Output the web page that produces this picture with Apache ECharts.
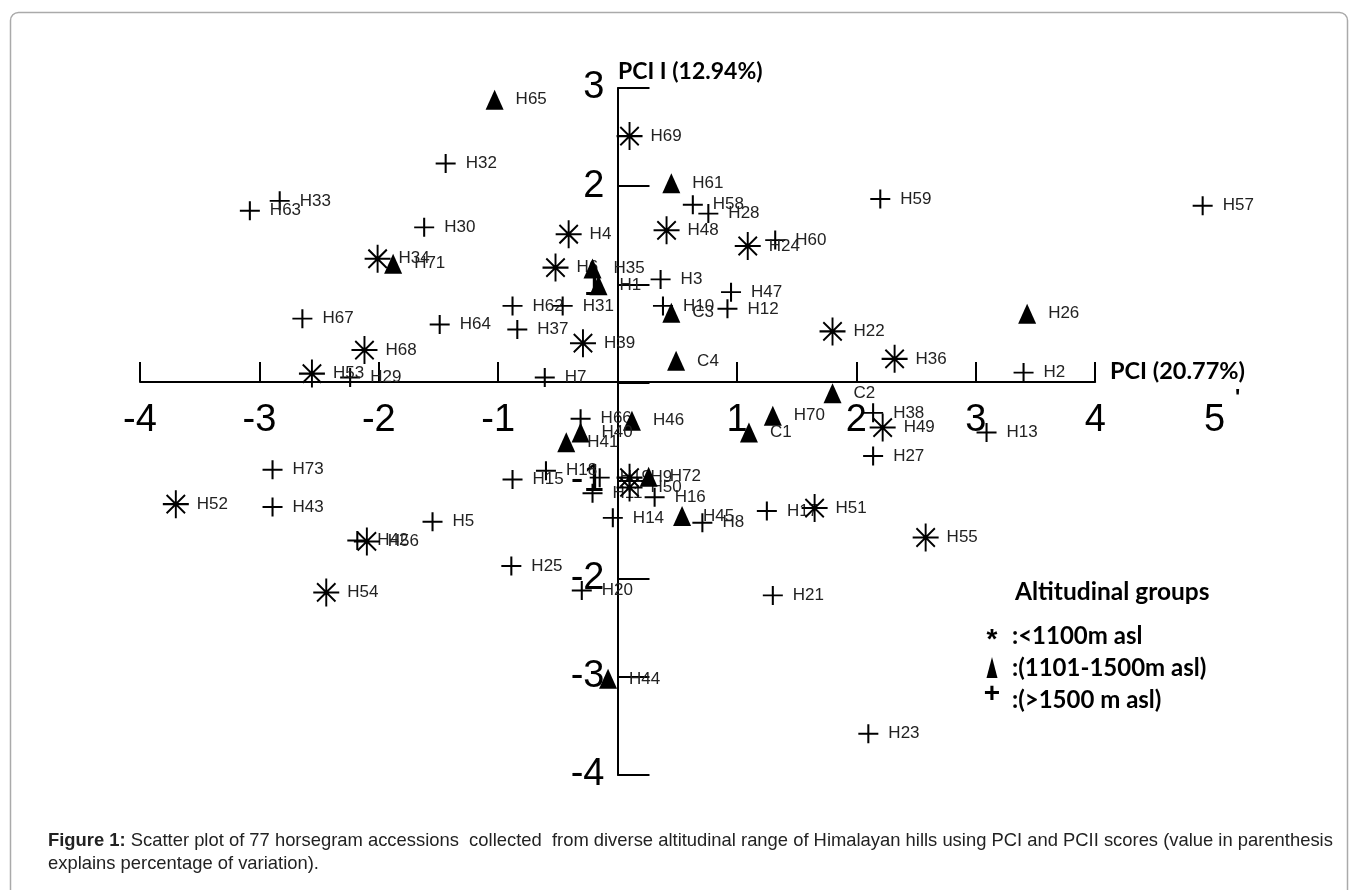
<!DOCTYPE html>
<html><head><meta charset="utf-8">
<script src="https://cdn.jsdelivr.net/npm/echarts@6/dist/echarts.min.js"></script>
<style>html,body{margin:0;padding:0;background:#fff}#c{width:1358px;height:890px}</style>
</head><body><div id="c"></div>
<script>
// ---- DATA ----
// x tick labels (PCI), y tick labels (PCII)
const xTickLabels = ['-4','-3','-2','-1','','1','2','3','4','5'];
const yTickLabels = ['-4','-3','-2','-1','','1','2','3'];

// <1100m asl (asterisk)
const lowNames = ['H69','H4','H48','H24','H34','H6','H39','H68','H53','H22','H36','H49','H9','H50','H52','H56','H54','H51','H55'];
const lowPC1   = [0.10,-0.41,0.41,1.09,-2.01,-0.52,-0.29,-2.12,-2.56,1.80,2.32,2.22,0.10,0.10,-3.70,-2.10,-2.44,1.65,2.58];
const lowPC2   = [2.51,1.51,1.55,1.39,1.26,1.17,0.40,0.33,0.09,0.52,0.24,-0.46,-0.97,-1.07,-1.24,-1.62,-2.14,-1.28,-1.58];

// 1101-1500m asl (triangle)
const midNames = ['H65','H61','H71','H35','H1','C3','C4','H26','C2','H70','C1','H46','H40','H41','H72','H45','H44'];
const midPC1   = [-1.03,0.45,-1.88,-0.21,-0.16,0.45,0.49,3.43,1.80,1.30,1.10,0.12,-0.31,-0.43,0.26,0.54,-0.08];
const midPC2   = [2.88,2.03,1.21,1.16,0.99,0.71,0.22,0.70,-0.11,-0.34,-0.51,-0.39,-0.51,-0.61,-0.96,-1.36,-3.02];

// >1500m asl (plus)
const highNames = ['H32','H33','H63','H58','H28','H59','H57','H30','H60','H3','H47','H10','H12','H62','H31','H67','H64','H37','H29','H7','H2','H66','H38','H13','H27','H73','H43','H5','H42','H25','H15','H18','H19','H11','H14','H16','H17','H8','H20','H21','H23'];
const highPC1   = [-1.44,-2.83,-3.08,0.63,0.76,2.20,4.90,-1.62,1.32,0.36,0.95,0.38,0.92,-0.88,-0.46,-2.64,-1.49,-0.84,-2.24,-0.61,3.40,-0.31,2.14,3.09,2.14,-2.89,-2.89,-1.55,-2.18,-0.89,-0.88,-0.60,-0.15,-0.21,-0.04,0.31,1.25,0.71,-0.30,1.30,2.10];
const highPC2   = [2.23,1.85,1.75,1.81,1.72,1.87,1.80,1.58,1.45,1.05,0.92,0.78,0.75,0.78,0.78,0.65,0.59,0.54,0.05,0.05,0.10,-0.37,-0.31,-0.51,-0.75,-0.89,-1.27,-1.42,-1.61,-1.87,-0.99,-0.90,-0.97,-1.13,-1.38,-1.17,-1.31,-1.43,-2.12,-2.17,-3.58];

// ---- CHART ----
const LBL_FONT = "'Liberation Sans',Arial,sans-serif";
const TICK_FONT = "'Liberation Sans',Arial,sans-serif";
const TITLE_FONT = "Lato,'Open Sans',sans-serif";
function mk(names, xs, ys){ return names.map((n,i)=>({name:n, value:[xs[i], ys[i]]})); }

const PLUS_PATH = 'path://M10,0L10,20M0,10L20,10';
const STAR_PATH = 'path://M12,0L12,26M0,13L24,13M3.5,4.5L20.5,21.5M20.5,4.5L3.5,21.5';

function lbl(dist){
  return {show:true, position:'right', distance:dist, formatter:'{b}', fontFamily:LBL_FONT, fontSize:17, color:'#222'};
}
const hiddenX = g => ({gridIndex:g, type:'value', show:false, min:-4, max:5});
const hiddenY = g => ({gridIndex:g, type:'value', show:false, min:-4, max:3});

const chart = echarts.init(document.getElementById('c'));
const option = {
  animation:false,
  backgroundColor:'#fff',
  grid:[
    {left:140, top:88, width:1074.6, height:687},   // data
    {left:140, top:88, width:1074.6, height:294},   // x tick labels (-4..5)
    {left:140, top:88, width:955.2, height:294},    // x axis line (-4..4)
    {left:617.5, top:88, width:100, height:687}     // y axis
  ],
  xAxis:[
    hiddenX(0),
    {gridIndex:1, type:'value', min:-4, max:5, interval:1, position:'bottom',
     axisLine:{show:false}, axisTick:{show:false}, splitLine:{show:false},
     axisLabel:{margin:20, fontSize:38, color:'#000', fontFamily:TICK_FONT,
       formatter:v=>xTickLabels[Math.round(v)+4]}},
    {gridIndex:2, type:'value', min:-4, max:4, interval:1, position:'bottom',
     axisLine:{onZero:false, lineStyle:{color:'#000', width:2}},
     axisTick:{inside:true, length:20, lineStyle:{color:'#000', width:2}},
     axisLabel:{show:false}, splitLine:{show:false}},
    {gridIndex:3, type:'value', show:false, min:0, max:1}
  ],
  yAxis:[
    hiddenY(0),
    {gridIndex:1, type:'value', show:false, min:0, max:1},
    {gridIndex:2, type:'value', show:false, min:0, max:1},
    {gridIndex:3, type:'value', min:-4, max:3, interval:1, position:'left',
     axisLine:{onZero:false, lineStyle:{color:'#000', width:2}},
     axisTick:{inside:true, length:32, lineStyle:{color:'#000', width:2}},
     splitLine:{show:false},
     axisLabel:{margin:13, fontSize:38, color:'#000', fontFamily:TICK_FONT,
       formatter:v=>yTickLabels[Math.round(v)+4]}}
  ],
  series:[
    {type:'scatter', name:'>1500 m asl', silent:true, xAxisIndex:0, yAxisIndex:0,
     symbol:PLUS_PATH, symbolSize:[20,19], z:2,
     itemStyle:{color:'rgba(0,0,0,0)', borderColor:'#000', borderWidth:2, opacity:1},
     label:lbl(9), data:mk(highNames, highPC1, highPC2)},
    {type:'scatter', name:'<1100m asl', silent:true, xAxisIndex:0, yAxisIndex:0,
     symbol:STAR_PATH, symbolSize:[26,28], z:3,
     itemStyle:{color:'rgba(0,0,0,0)', borderColor:'#000', borderWidth:2, opacity:1},
     label:lbl(7), data:mk(lowNames, lowPC1, lowPC2)},
    {type:'scatter', name:'1101-1500m asl', silent:true, xAxisIndex:0, yAxisIndex:0,
     symbol:'triangle', symbolSize:[18,20], z:4,
     itemStyle:{color:'#000', opacity:1},
     label:lbl(12), data:mk(midNames, midPC1, midPC2)}
  ],
  graphic:[
    {type:'rect', silent:true, shape:{x:10.5, y:12.5, width:1337, height:920, r:8},
     style:{fill:'none', stroke:'#aaa', lineWidth:1.5}},
    {type:'text', silent:true, x:618, y:72, style:{text:'PCI I (12.94%)', font:'bold 23px '+TITLE_FONT, fill:'#000', textVerticalAlign:'middle'}},
    {type:'text', silent:true, x:1110, y:371, style:{text:'PCI (20.77%)', font:'bold 23.5px '+TITLE_FONT, fill:'#000', textVerticalAlign:'middle'}},
    {type:'text', silent:true, x:1235, y:398, style:{text:"'", font:'bold 22px '+TICK_FONT, fill:'#000', textVerticalAlign:'middle'}},
    // legend
    {type:'text', silent:true, x:1015, y:592, style:{text:'Altitudinal groups', font:'bold 24.5px '+TITLE_FONT, fill:'#000', textVerticalAlign:'middle'}},
    {type:'text', silent:true, x:992, y:640, style:{text:'*', font:'bold 28px '+TICK_FONT, fill:'#000', textAlign:'center', textVerticalAlign:'middle'}},
    {type:'polygon', silent:true, shape:{points:[[992,657],[986.5,678],[997.5,678]]}, style:{fill:'#000'}},
    {type:'text', silent:true, x:992, y:694, style:{text:'+', font:'bold 28px '+TICK_FONT, fill:'#000', textAlign:'center', textVerticalAlign:'middle'}},
    {type:'text', silent:true, x:1012, y:636, style:{text:':<1100m asl', font:'bold 24px '+TITLE_FONT, fill:'#000', textVerticalAlign:'middle'}},
    {type:'text', silent:true, x:1012, y:668, style:{text:':(1101-1500m asl)', font:'bold 24px '+TITLE_FONT, fill:'#000', textVerticalAlign:'middle'}},
    {type:'text', silent:true, x:1012, y:700, style:{text:':(>1500 m asl)', font:'bold 24px '+TITLE_FONT, fill:'#000', textVerticalAlign:'middle'}},
    // caption
    {type:'text', silent:true, x:48, y:841, style:{
      text:'{b|Figure 1:} Scatter plot of 77 horsegram accessions  collected  from diverse altitudinal range of Himalayan hills using PCI and PCII scores (value in parenthesis',
      font:'18.4px '+TICK_FONT, fill:'#222', textVerticalAlign:'middle',
      rich:{b:{fontWeight:'bold', fontSize:18.4, fontFamily:TICK_FONT, fill:'#222'}}}},
    {type:'text', silent:true, x:48, y:864, style:{text:'explains percentage of variation).', font:'18.4px '+TICK_FONT, fill:'#222', textVerticalAlign:'middle'}}
  ]
};
chart.setOption(option);
</script>
</body></html>
